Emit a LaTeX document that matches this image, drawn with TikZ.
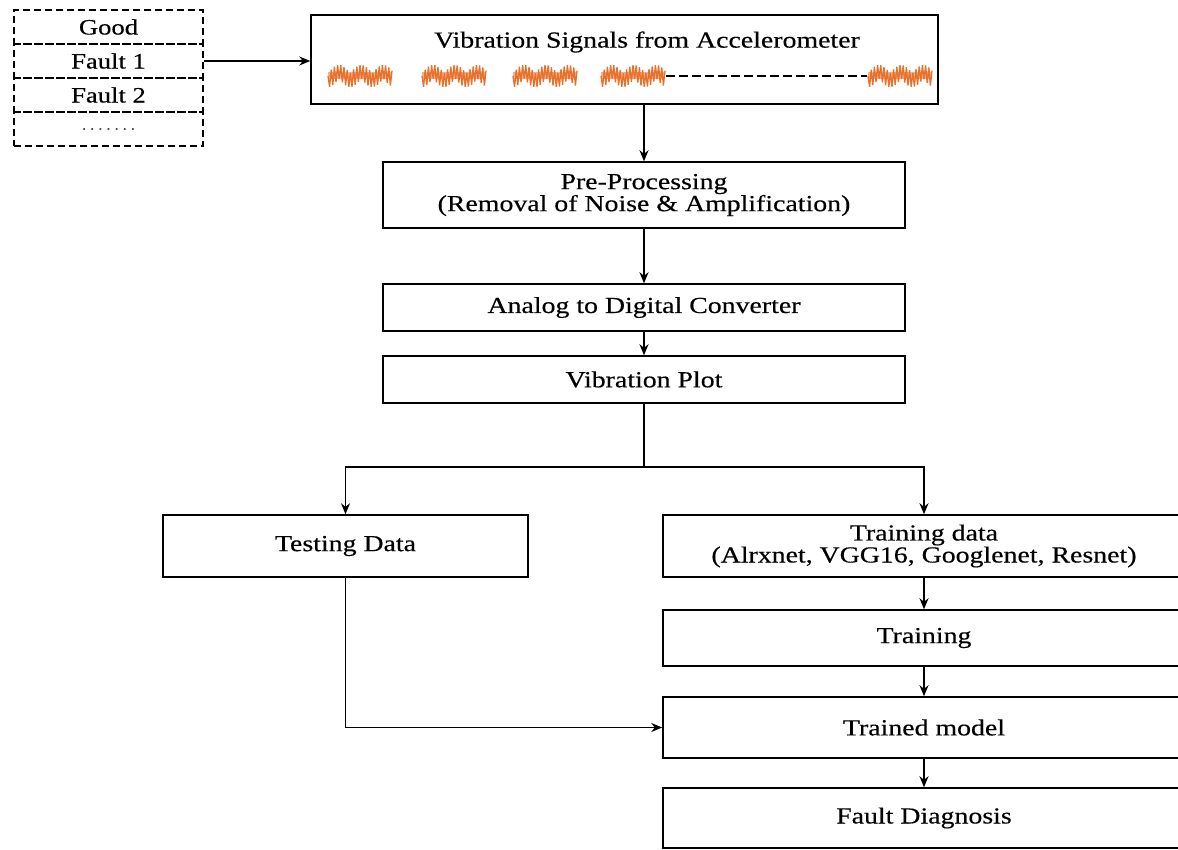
\documentclass[tikz,border=0pt]{standalone}
\usepackage{fontspec}
\setmainfont{Liberation Serif}[FakeStretch=1.21, FakeBold=0.35]
\usetikzlibrary{arrows.meta,positioning,calc}
\definecolor{SignalOrange}{HTML}{E8712C}
\tikzset{
  >={Stealth[length=11pt,width=9pt]},
  stage/.style={rectangle, draw=black, line width=1.5pt, fill=white,
    align=center, minimum width=522pt, inner sep=4pt,
    font=\fontsize{23}{22}\selectfont},
  classbox/.style={rectangle, draw=black, dash pattern=on 7pt off 4pt,
    line width=1.3pt, minimum width=189pt, minimum height=34pt,
    inner sep=0pt, font=\fontsize{22}{22}\selectfont},
  flow/.style={draw, ->, line width=1.6pt},
  link/.style={draw, line width=1.6pt}
}
% one burst of the accelerometer trace, #1 = left x, #2 = mid y
\newcommand\vibburst[2]{%
  \fill[SignalOrange!55] (#1,#2-3.5) rectangle ++(64,7);
  \draw[SignalOrange, line width=1.3pt, line join=bevel] (#1,#2)
    \foreach \k in {1,...,40}{
      -- ({#1+1.6*\k},{#2+(2*mod(\k,2)-1)*(2.5+8.5*abs(sin(\k*77)))})
    };
}

\begin{document}
\begin{tikzpicture}[x=1pt, y=-1pt]

\useasboundingbox (0,0) rectangle (1178,850);
\clip (0,0) rectangle (1178,850);

% class labels
\node[classbox] (good)   at (108.5,27)  {Good};
\node[classbox] (fault1) at (108.5,61)  {Fault 1};
\node[classbox] (fault2) at (108.5,95)  {Fault 2};
\node[classbox] (more)   at (108.5,129) {\fontsize{12}{12}\selectfont
  \makebox[57pt]{\xleaders\hbox to 8pt{\hss.\hss}\hfill}};

% signal acquisition
\node[stage, minimum width=627pt, minimum height=89pt] (sig) at (624.5,59.5) {};
\node[font=\fontsize{23}{22}\selectfont] (sigtitle) at (647,42)
  {Vibration Signals from Accelerometer};
\foreach \bx in {328,422,513,601,868} {\vibburst{\bx}{76}}
\draw[dash pattern=on 9pt off 4pt, line width=1.3pt] (666,76) -- (867,76);

% processing chain
\node[stage, minimum height=66pt] (pre) at (644,195)
  {Pre-Processing\\(Removal of Noise \& Amplification)};
\node[stage, minimum height=47pt] (adc) at (644,307.5)
  {Analog to Digital Converter};
\node[stage, minimum height=47pt] (plot) at (644,379.5)
  {Vibration Plot};

% data split
\node[stage, minimum width=365pt, minimum height=62pt] (test) at (345.5,546)
  {Testing Data};
\node[stage, minimum height=62pt] (traindata) at (924,546)
  {Training data\\(Alrxnet, VGG16, Googlenet, Resnet)};
\node[stage, minimum height=56pt] (training) at (924,638)
  {Training};
\node[stage, minimum height=61pt] (trained) at (924,727.5)
  {Trained model};
\node[stage, minimum height=60pt] (diag) at (924,818)
  {Fault Diagnosis};

\draw[flow] (fault1.east) -- (fault1.east -| sig.west);
\draw[flow] (sig.south -| pre.north) -- (pre.north);
\draw[flow] (pre) -- (adc);
\draw[flow] (adc) -- (plot);
\draw[link] (plot.south) -- ++(0,63) coordinate (split);
\draw[flow] (split) -| (test.north);
\draw[flow] (split) -| (traindata.north);
\draw[flow] (traindata) -- (training);
\draw[flow] (training) -- (trained);
\draw[flow] (trained) -- (diag);
\draw[flow] (test.south) |- (trained.west);

\end{tikzpicture}
\end{document}
